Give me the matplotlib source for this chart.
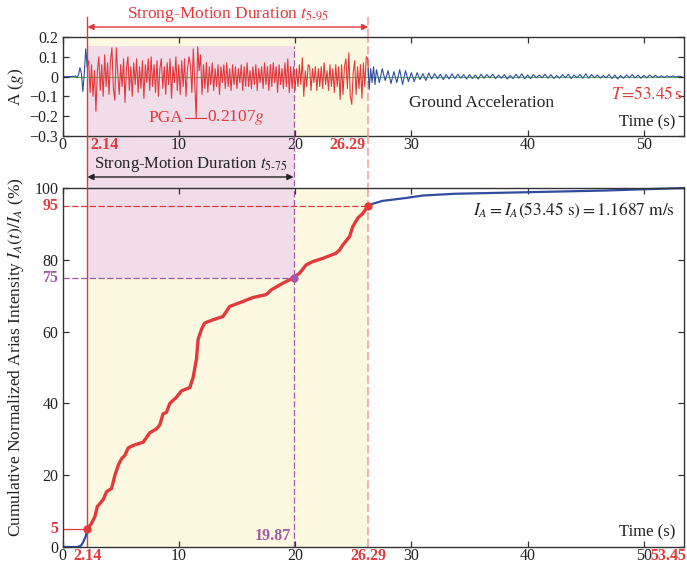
import numpy as np
import matplotlib
matplotlib.use('Agg')
import matplotlib.pyplot as plt
from matplotlib.lines import Line2D
from matplotlib.patches import Rectangle
import matplotlib.transforms as mtransforms

plt.rcParams['font.family'] = ['Liberation Serif', 'DejaVu Serif']
plt.rcParams['mathtext.fontset'] = 'stix'
plt.rcParams['axes.unicode_minus'] = True

# ---------------- data ----------------
T5, T75, T95, T_END = 2.14, 19.87, 26.29, 53.45
PGA = -0.2107
IA_TOTAL = 1.1687

# ground acceleration (g): 0.125 s steps for 0-27 s
acc_strong = [
    0, 0, 0, 0, 0, 0, 0, 0.002,
    0.0, 0.004, -0.006, 0.008, 0.045, 0.015, -0.075, 0.02,
    0.14, 0.05, 0.08, -0.08, 0.06, -0.10, 0.03, -0.175,
    0.03, 0.10, -0.07, 0.06, -0.10, 0.11, -0.05, 0.07,
    -0.09, 0.08, 0.145, -0.06, -0.12, 0.145, 0.02, -0.09,
    0.06, -0.05, 0.09, -0.13, 0.04, 0.10, -0.07, 0.05,
    -0.10, 0.07, -0.04, 0.09, -0.08, 0.05, -0.06, 0.08,
    -0.11, 0.06, -0.03, 0.09, -0.07, 0.10, -0.05, 0.06,
    -0.08, 0.08, -0.10, 0.04, 0.09, -0.06, 0.05, -0.09,
    0.07, -0.04, 0.09, -0.11, 0.05, -0.03, 0.10, -0.07,
    0.06, -0.09, 0.08, -0.05, 0.09, -0.10, 0.04, 0.10,
    0.06, -0.08, 0.14, -0.03, -0.2107, 0.15, 0.03, 0.11,
    -0.09, 0.06, -0.06, 0.07, -0.08, 0.05, -0.04, 0.07,
    -0.07, 0.04, -0.05, 0.06, -0.09, 0.05, -0.03, 0.06,
    -0.06, 0.07, -0.05, 0.04, -0.07, 0.06, -0.04, 0.05,
    -0.06, 0.04, -0.03, 0.06, -0.07, 0.05, -0.05, 0.07,
    -0.05, 0.03, -0.06, 0.05, -0.04, 0.06, -0.07, 0.04,
    -0.03, 0.05, -0.06, 0.07, -0.04, 0.05, -0.07, 0.06,
    -0.05, 0.07, -0.03, 0.05, -0.08, 0.06, -0.04, 0.04,
    -0.06, 0.07, -0.05, 0.09, -0.08, 0.05, -0.06, 0.05,
    -0.07, 0.04, -0.05, 0.06, -0.04, 0.095, -0.10, 0.03,
    -0.05, 0.06, 0.05, -0.07, 0.04, -0.03, 0.05, -0.07,
    0.04, -0.05, 0.05, -0.06, 0.07, -0.04, 0.03, -0.07,
    0.06, -0.05, 0.04, -0.08, 0.06, -0.05, 0.05, -0.115,
    0.06, -0.09, 0.05, 0.09, -0.06, 0.12, -0.10, -0.14,
    0.02, 0.08, -0.09, 0.05, -0.06, 0.06, -0.11, 0.07,
    -0.05, 0.10, 0.09, -0.065, 0.04, -0.03, 0.05, -0.04,
]
# 0.25 s steps from 27 s to the end
acc_tail = [
    0.035, -0.03, 0.04, -0.02,
    0.03, -0.035, 0.025, -0.03,
    0.035, -0.04, 0.03, -0.025,
    0.02, -0.025, 0.02, -0.015,
    0.015, -0.02, 0.018, -0.012,
    0.015, -0.01, 0.012, -0.015,
    0.01, -0.012, 0.014, -0.01,
    0.012, -0.008, 0.01, -0.012,
    0.01, -0.01, 0.008, -0.012,
    0.012, -0.008, 0.01, -0.006,
    0.012, -0.01, 0.008, -0.008,
    0.01, -0.012, 0.006, -0.01,
    0.012, -0.008, 0.014, -0.01,
    0.008, -0.01, 0.01, -0.006,
    0.008, -0.006, 0.012, -0.008,
    0.01, -0.01, 0.006, -0.008,
    0.01, -0.006, 0.012, -0.01,
    0.008, -0.006, 0.01, -0.008,
    0.014, -0.008, 0.01, -0.006,
    0.008, -0.008, 0.006, -0.006,
    0.01, -0.01, 0.008, -0.012,
    0.006, -0.008, 0.008, -0.006,
    0.01, -0.006, 0.008, -0.008,
    0.006, -0.006, 0.008, -0.004,
    0.006, -0.005, 0.004, -0.004,
    0.004, -0.003, 0.003, -0.002,
    0.002, 0.0,
]
acc_time = np.concatenate([np.arange(len(acc_strong)) * 0.125,
                           27.0 + np.arange(len(acc_tail)) * 0.25])
acc_vals = np.array(acc_strong + acc_tail)

# cumulative normalized Arias intensity (%)
arias_t = [0, 1.3, 1.6, 1.8, 2.0, 2.14, 2.5, 2.79, 3.0, 3.5, 3.79, 4.22, 4.51,
           4.8, 5.08, 5.36, 5.65, 6.08, 6.94, 7.5, 8.08, 8.37, 8.65, 8.94,
           9.23, 9.8, 10.23, 10.95, 11.23, 11.52, 11.66, 11.95, 12.23, 12.95,
           13.8, 14.38, 15.52, 16.38, 17.52, 17.95, 18.96, 19.87, 20.39, 20.96,
           21.53, 22.39, 23.5, 23.82, 24.1, 24.68, 24.96, 25.39, 25.82, 26.29,
           26.68, 27.5, 29.5, 30.97, 33.8, 39.6, 46.7, 53.45]
arias_v = [0, 0, 0.4, 1.5, 3.0, 5.0, 6.6, 8.5, 11.3, 13.2, 15.4, 16.3, 20.0,
           22.8, 24.6, 25.5, 27.6, 28.3, 29.2, 31.8, 32.9, 34.0, 37.1, 37.5,
           40.0, 41.7, 43.5, 44.4, 47.2, 52.3, 57.8, 60.6, 62.4, 63.3, 64.2,
           67.0, 68.4, 69.5, 70.3, 71.6, 73.5, 75.0, 76.3, 78.6, 79.5, 80.4,
           81.8, 82.7, 84.1, 86.4, 89.2, 91.6, 92.9, 95.0, 95.6, 96.4, 97.2,
           97.9, 98.4, 98.8, 99.3, 100.0]

top_xticks = [0, 10, 20, 30, 40, 50]
top_yticks = [0.2, 0.1, 0, -0.1, -0.2, -0.3]
top_yticklabels = ['0.2', '0.1', '0', '\u22120.1', '\u22120.2', '\u22120.3']
bot_yticks = [0, 20, 40, 60, 80, 100]

# ---------------- style ----------------
RED = '#e2393c'
LRED = '#f2a3a3'
BLUE = '#2f4c9e'
PURPLE = '#a25aa6'
GREEN = '#63b463'
PINK = '#f1dcea'
YELLOW = '#fdf9e0'
DARK = '#333333'
XPAD = 1.0
TFS = 11.5

W, H = 687, 565
def fx(px):
    return px / W
def fy(py):
    return 1 - py / H

fig = plt.figure(figsize=(W / 100, H / 100), dpi=100)
L, R = 62.5, 684
B2 = 547
ax1 = fig.add_axes([fx(L), fy(136), (R - L) / W, (136 - 37) / H])
ax2 = fig.add_axes([fx(L), fy(B2), (R - L) / W, (B2 - 188) / H])

for ax in (ax1, ax2):
    ax.set_xlim(0, T_END)
    for s in ax.spines.values():
        s.set_color(DARK)
        s.set_linewidth(1.0)
    ax.tick_params(direction='in', top=True, right=True, length=4,
                   width=0.9, color=DARK, labelsize=TFS, labelcolor='#222222')
    ax.tick_params(axis='x', pad=XPAD)
    ax.tick_params(axis='y', pad=3)
    ax.set_xticks(top_xticks)

ax1.set_ylim(-0.3, 0.2)
ax1.set_yticks(top_yticks)
ax1.set_yticklabels(top_yticklabels)
ax2.set_ylim(0, 100)
ax2.set_yticks(bot_yticks)

blend = mtransforms.blended_transform_factory(ax2.transData, fig.transFigure)

# shading
pink_top = 0.156
ax1.axvspan(T5, T95, color=YELLOW, lw=0, zorder=0)
ax1.axvspan(T5, T75, ymin=0, ymax=(pink_top + 0.3) / 0.5, color=PINK, lw=0, zorder=0.1)
ax2.axvspan(T5, T95, color=YELLOW, lw=0, zorder=0)
ax2.axvspan(T5, T75, ymin=0.75, ymax=1, color=PINK, lw=0, zorder=0.1)
fig.add_artist(Rectangle((T5, fy(188)), T75 - T5, fy(136) - fy(188),
                         transform=blend, color=PINK, lw=0, zorder=-1))

# vertical reference lines
def vseg(x, py0, py1, **kw):
    fig.add_artist(Line2D([x, x], [fy(py0), fy(py1)], transform=blend, **kw))

kw5 = dict(color=RED, lw=1.0)
kw95 = dict(color=LRED, lw=1.2, ls=(0, (5, 2)))
kw75 = dict(color=PURPLE, lw=0.9, ls=(0, (5, 2)))
for ax in (ax1, ax2):
    ax.axvline(T5, zorder=1, **kw5)
    ax.axvline(T95, zorder=1, **kw95)
ax1.axvline(T75, ymax=(pink_top + 0.3) / 0.5, zorder=1, **kw75)
ax2.axvline(T75, zorder=1, **kw75)
vseg(T5, 17, 37, **kw5)
vseg(T5, 136, 188, **kw5)
vseg(T95, 17, 37, **kw95)
vseg(T95, 136, 188, **kw95)
vseg(T75, 136, 188, **kw75)

# ---------------- top: acceleration ----------------
ax1.axhline(0, color=GREEN, lw=0.8, zorder=1.5)
a5 = np.interp(T5, acc_time, acc_vals)
a95 = np.interp(T95, acc_time, acc_vals)
m_pre = acc_time < T5
m_mid = (acc_time > T5) & (acc_time < T95)
m_post = acc_time > T95
ax1.plot(np.append(acc_time[m_pre], T5), np.append(acc_vals[m_pre], a5), color=BLUE, lw=0.8, zorder=2)
ax1.plot(np.concatenate([[T5], acc_time[m_mid], [T95]]),
         np.concatenate([[a5], acc_vals[m_mid], [a95]]), color=RED, lw=0.8, zorder=2)
ax1.plot(np.insert(acc_time[m_post], 0, T95), np.insert(acc_vals[m_post], 0, a95),
         color=BLUE, lw=0.8, zorder=2)

ax1.plot([10.5, 12.3], [PGA, PGA], color=RED, lw=0.8, zorder=2)
ax1.text(10.35, PGA + 0.003, 'PGA', color=RED, ha='right', va='center', fontsize=12.5)
ax1.text(12.45, PGA + 0.003, '0.2107$g$', color=RED, ha='left', va='center', fontsize=12.5)
ax1.text(36.0, -0.134, 'Ground Acceleration', color='#222222', ha='center', va='center', fontsize=12.5)
ax1.text(53.3, -0.088, r'$T\!=\!53.45\,$s', color=RED, ha='right', va='center', fontsize=12.5)
ax1.text(52.7, -0.232, 'Time (s)', color='#222222', ha='right', va='center', fontsize=12)
ax1.set_ylabel('A ($g$)', fontsize=12.5, color='#222222')
ax1.yaxis.set_label_coords(-0.058, 0.5)

# colored x labels on top axis
ax1.annotate('2.14', xy=(T5, 0), xycoords=('data', 'axes fraction'), xytext=(2, -XPAD),
             textcoords='offset points', ha='left', va='top', color=RED,
             fontweight='bold', fontsize=TFS)
ax1.annotate('26.29', xy=(T95, 0), xycoords=('data', 'axes fraction'), xytext=(-2, -XPAD),
             textcoords='offset points', ha='right', va='top', color=RED,
             fontweight='bold', fontsize=TFS)

# ---------------- bottom: Arias intensity ----------------
at = np.array(arias_t)
av = np.array(arias_v)
ax2.plot(at[at <= T5], av[at <= T5], color=BLUE, lw=1.6, zorder=2)
mm = (at >= T5) & (at <= T95)
ax2.plot(at[mm], av[mm], color=RED, lw=2.4, zorder=2.1, solid_capstyle='round')
ax2.plot(at[at >= T95], av[at >= T95], color=BLUE, lw=1.6, zorder=2, clip_on=False)

ax2.plot([0, T95], [95, 95], color=RED, lw=0.9, ls=(0, (5, 2)), zorder=1.5)
ax2.plot([0, T75], [75, 75], color=PURPLE, lw=0.9, ls=(0, (5, 2)), zorder=1.5)
ax2.plot([0, T5], [5, 5], color=RED, lw=0.9, zorder=1.5)
ax2.plot([T5], [5], 'o', color=RED, ms=5, zorder=3)
ax2.plot([T75], [75], 'o', color=PURPLE, ms=5, zorder=3)
ax2.plot([T95], [95], 'o', color=RED, ms=5, zorder=3)

ax2.text(52.7, 93.8, r'$I_A = I_A(53.45\ \mathrm{s}) = 1.1687\ \mathrm{m/s}$',
         ha='right', va='center', fontsize=12.5, color='#222222')
ax2.text(52.7, 4.1, 'Time (s)', color='#222222', ha='right', va='center', fontsize=12)
ax2.text(T75 - 0.25, 3.2, '19.87', color=PURPLE, ha='right', va='center',
         fontweight='bold', fontsize=TFS)
ax2.set_ylabel('Cumulative Normalized Arias Intensity $I_A(t)/I_A$ (%)',
               fontsize=12.5, color='#222222')
ax2.yaxis.set_label_coords(-0.058, 0.53)

for xv, txt, ha, dx in [(T5, '2.14', 'center', 0), (T95, '26.29', 'center', 0),
                        (T_END, '53.45', 'right', 2)]:
    ax2.annotate(txt, xy=(xv, 0), xycoords=('data', 'axes fraction'), xytext=(dx, -XPAD),
                 textcoords='offset points', ha=ha, va='top', color=RED,
                 fontweight='bold', fontsize=TFS, annotation_clip=False)
for yv, txt, col in [(5, '5', RED), (75, '75', PURPLE), (95, '95', RED)]:
    ax2.annotate(txt, xy=(0, yv), xycoords=('axes fraction', 'data'), xytext=(-3, 0),
                 textcoords='offset points', ha='right', va='center', color=col,
                 fontweight='bold', fontsize=TFS, annotation_clip=False)

# ---------------- duration arrows ----------------
ax2.annotate('', xy=(T5, fy(27)), xytext=(T95, fy(27)),
             xycoords=('data', 'figure fraction'), textcoords=('data', 'figure fraction'),
             arrowprops=dict(arrowstyle='<|-|>', color=RED, lw=1.0, shrinkA=0, shrinkB=0,
                             mutation_scale=9), annotation_clip=False)
ax2.annotate(r'Strong-Motion Duration $t_{5\text{-}95}$', xy=((T5 + T95) / 2, fy(15)),
             xycoords=('data', 'figure fraction'), ha='center', va='center',
             color=RED, fontsize=12.5, annotation_clip=False)
ax2.annotate('', xy=(T5, fy(177)), xytext=(T75, fy(177)),
             xycoords=('data', 'figure fraction'), textcoords=('data', 'figure fraction'),
             arrowprops=dict(arrowstyle='<|-|>', color='#222222', lw=1.0, shrinkA=0, shrinkB=0,
                             mutation_scale=9), annotation_clip=False)
ax2.annotate(r'Strong-Motion Duration $t_{5\text{-}75}$', xy=((T5 + T75) / 2, fy(164)),
             xycoords=('data', 'figure fraction'), ha='center', va='center',
             color='#222222', fontsize=12, annotation_clip=False)

fig.savefig('out.png', dpi=100)
